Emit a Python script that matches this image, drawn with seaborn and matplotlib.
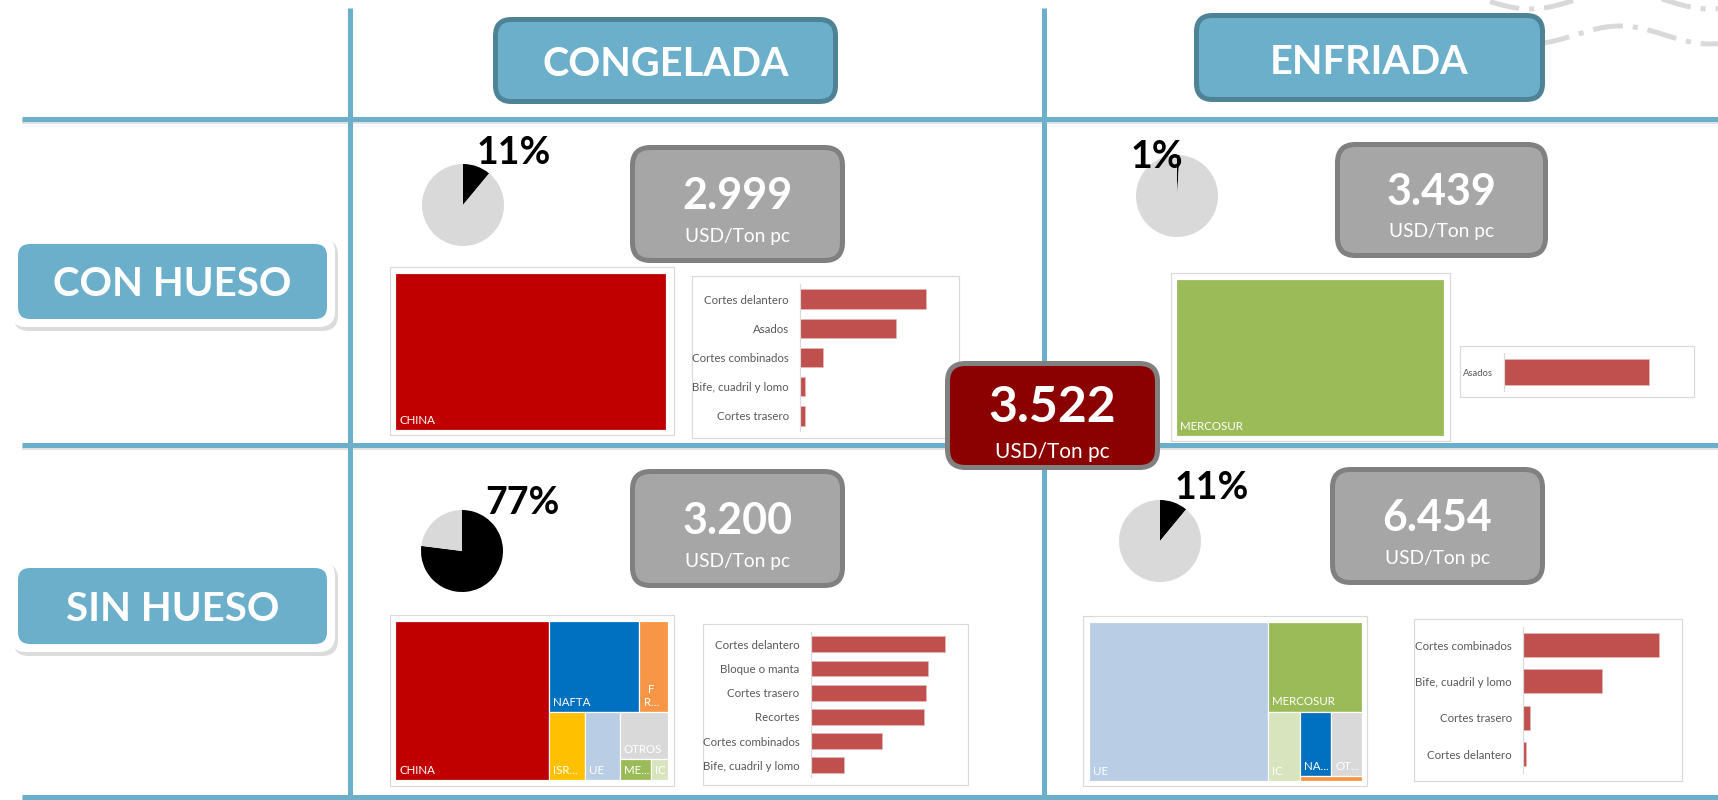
import matplotlib
matplotlib.use('Agg')
import matplotlib.pyplot as plt
from matplotlib.patches import FancyBboxPatch, Rectangle
import numpy as np
import seaborn as sns

sns.set_theme(style='white')
plt.rcParams['font.family'] = ['Lato', 'DejaVu Sans']

# ---- data ----
tipos = ['CONGELADA', 'ENFRIADA']
huesos = ['CON HUESO', 'SIN HUESO']
precio_promedio = '3.522'
unidad = 'USD/Ton pc'

# price per cell (con hueso, sin hueso)
precios_congelada = ['2.999', '3.200']
precios_enfriada = ['3.439', '6.454']
# share (%) of each cell in the total
part_congelada = [11, 77]
part_enfriada = [1, 11]

# destination markets (treemaps)
mercados_cong_con = ['CHINA']
share_cong_con = [100]
mercados_enf_con = ['MERCOSUR']
share_enf_con = [100]
mercados_cong_sin = ['CHINA', 'NAFTA', 'F\nR...', 'ISR...', 'UE', 'OTROS', 'ME...', 'IC']
share_cong_sin = [55.7, 18.7, 5.9, 5.6, 5.3, 5.2, 1.5, 0.8]
mercados_enf_sin = ['UE', 'MERCOSUR', 'IC', 'NA...', 'OT...', '']
share_enf_sin = [64.6, 19.1, 5.0, 4.6, 4.5, 0.7]
colores_cong_sin = ['#C00000', '#0070C0', '#F79646', '#FFC000', '#B9CDE5', '#D9D9D9', '#9BBB59', '#D7E4BD']
colores_enf_sin = ['#B9CDE5', '#9BBB59', '#D7E4BD', '#0070C0', '#D9D9D9', '#F79646']

# cuts (bar charts), relative volume
cortes_cong_con = ['Cortes delantero', 'Asados', 'Cortes combinados', 'Bife, cuadril y lomo', 'Cortes trasero']
vol_cong_con = [126, 95.5, 22.8, 4.8, 4.8]
cortes_enf_con = ['Asados']
vol_enf_con = [144.6]
cortes_cong_sin = ['Cortes delantero', 'Bloque o manta', 'Cortes trasero', 'Recortes', 'Cortes combinados', 'Bife, cuadril y lomo']
vol_cong_sin = [134.4, 117.6, 115.7, 113.3, 71.2, 33.3]
cortes_enf_sin = ['Cortes combinados', 'Bife, cuadril y lomo', 'Cortes trasero', 'Cortes delantero']
vol_enf_sin = [136.4, 78.7, 7.1, 2.7]

# ---- styling ----
W, H = 1718, 800
BLUE = '#6BAFCA'
BLUE_EDGE = '#4E8396'
GRAY_BOX = '#A6A6A6'
GRAY_EDGE = '#808080'
LIGHT = '#D9D9D9'
BAR = '#C0504D'
PX = 0.72  # points per pixel at dpi 100

fig = plt.figure(figsize=(W / 100, H / 100), dpi=100)


def fig_rect(x0, y0, x1, y1):
    return [x0 / W, 1 - y1 / H, (x1 - x0) / W, (y1 - y0) / H]


def full_axes(z):
    ax = fig.add_axes([0, 0, 1, 1], zorder=z)
    ax.set_xlim(0, W)
    ax.set_ylim(H, 0)
    ax.axis('off')
    ax.patch.set_alpha(0)
    return ax


bg = full_axes(0)
fg = full_axes(10)


def rbox(ax, x0, y0, x1, y1, fc, ec='none', lw=0, r=15, alpha=1, z=2):
    i = lw / 2
    ax.add_patch(FancyBboxPatch((x0 + i, y0 + i), x1 - x0 - 2 * i, y1 - y0 - 2 * i,
                                boxstyle=f'round,pad=0,rounding_size={r}',
                                fc=fc, ec=ec, lw=lw * PX, alpha=alpha, zorder=z))


# grid lines
for y in [119, 445, 797]:
    bg.plot([22, W], [y + 3, y + 3], color='#BFBFBF', lw=4 * PX, alpha=0.45, zorder=1, solid_capstyle='butt')
    bg.plot([22, W], [y, y], color=BLUE, lw=5 * PX, zorder=1.2, solid_capstyle='butt')
for x in [350, 1044]:
    bg.plot([x, x], [8, H], color=BLUE, lw=5 * PX, zorder=1.3, solid_capstyle='butt')

# decoration top right
xs = np.linspace(1540, W, 200)
bg.plot(xs, 35 - 9 * np.cos(2 * np.pi * (xs - 1620) / 180), color=LIGHT, lw=5 * PX,
        linestyle=(0, (6, 2, 1, 2)), zorder=1)
xs = np.linspace(1490, W, 200)
bg.plot(xs, -9 * np.cos(2 * np.pi * (xs - 1620) / 180), color=LIGHT, lw=5 * PX,
        linestyle=(0, (6, 2, 1, 2)), zorder=1)

# column headers
for (x0, y0, x1, y1), lab in zip([(493, 17, 838, 104), (1194, 13, 1545, 102)], tipos):
    rbox(bg, x0, y0, x1, y1, BLUE, BLUE_EDGE, 5, r=16)
    bg.text((x0 + x1) / 2, (y0 + y1) / 2 + 1, lab, ha='center', va='center_baseline',
            color='white', fontsize=28.5, fontweight='bold', zorder=3)

# row headers
for (y0, y1), lab in zip([(236, 327), (560, 652)], huesos):
    rbox(bg, 13, y0 + 3, 338, y1 + 4, '#8C8C8C', r=16, alpha=0.3)
    rbox(bg, 10, y0, 335, y1, 'white', r=16)
    rbox(bg, 18, y0 + 8, 327, y1 - 8, BLUE, r=12, z=2.5)
    bg.text(172.5, (y0 + y1) / 2, lab, ha='center', va='center_baseline',
            color='white', fontsize=29, fontweight='bold', zorder=3)


# pies
def draw_pie(cx, cy, share, lx, ly):
    ax = fig.add_axes(fig_rect(cx - 41, cy - 41, cx + 41, cy + 41))
    ax.pie([share, 100 - share], colors=['black', LIGHT], startangle=90, counterclock=False,
           radius=1, wedgeprops=dict(linewidth=0))
    ax.set_xlim(-1, 1)
    ax.set_ylim(-1, 1)
    fg.text(lx, ly, f'{share}%', ha='left', va='baseline', color='black',
            fontsize=27, fontweight='bold', zorder=5)


draw_pie(463, 205, part_congelada[0], 477, 164)
draw_pie(1177, 196, part_enfriada[0], 1131, 168)
draw_pie(462, 551, part_congelada[1], 485, 514)
draw_pie(1160, 541, part_enfriada[1], 1175, 499)


# price boxes
def price_box(x0, y0, x1, y1, valor, fc, big, small, fb, fs):
    rbox(fg, x0, y0, x1, y1, fc, GRAY_EDGE, 5, r=18, z=4)
    cx = (x0 + x1) / 2
    h = y1 - y0
    fg.text(cx, y0 + fb * h, valor, ha='center', va='baseline', color='white',
            fontsize=big, fontweight='bold', zorder=5)
    fg.text(cx, y0 + fs * h, unidad, ha='center', va='baseline', color='white',
            fontsize=small, zorder=5)


price_box(630, 145, 845, 263, precios_congelada[0], GRAY_BOX, 31, 13.8, 0.545, 0.82)
price_box(1335, 142, 1548, 258, precios_enfriada[0], GRAY_BOX, 31, 13.8, 0.545, 0.82)
price_box(630, 469, 845, 588, precios_congelada[1], GRAY_BOX, 31, 13.8, 0.545, 0.82)
price_box(1330, 467, 1545, 585, precios_enfriada[1], GRAY_BOX, 31, 13.8, 0.545, 0.82)
price_box(945, 361, 1160, 470, precio_promedio, '#8B0000', 36, 15, 0.56, 0.89)


# treemaps
def group_sum(g, vals):
    return vals[g] if isinstance(g, int) else sum(group_sum(s, vals) for s in g)


def slice_layout(groups, vals, x, y, w, h, horiz, out):
    tot = sum(group_sum(g, vals) for g in groups)
    pos = x if horiz else y
    for g in groups:
        f = group_sum(g, vals) / tot
        if horiz:
            r = (pos, y, w * f, h)
            pos += w * f
        else:
            r = (x, pos, w, h * f)
            pos += h * f
        if isinstance(g, int):
            out[g] = r
        else:
            slice_layout(g, vals, *r, not horiz, out)
    return out


def draw_treemap(frame, inner, nombres, vals, colores, plan):
    bg.add_patch(Rectangle((frame[0], frame[1]), frame[2] - frame[0], frame[3] - frame[1],
                           fc='white', ec=LIGHT, lw=1.2 * PX, zorder=2))
    ax = fig.add_axes(fig_rect(*inner))
    ax.set_xlim(0, 1)
    ax.set_ylim(1, 0)
    ax.axis('off')
    rects = slice_layout(plan, vals, 0, 0, 1, 1, True, {})
    for i, (x, y, w, h) in rects.items():
        ax.add_patch(Rectangle((x, y), w, h, fc=colores[i], ec='white', lw=1.2 * PX))
        if nombres[i]:
            ax.annotate(nombres[i], (x, y + h), xytext=(3, 3), textcoords='offset points',
                        ha='left', va='bottom', color='white', fontsize=8.3, multialignment='center')


draw_treemap((390, 267, 674, 435), (395, 273, 666, 430), mercados_cong_con, share_cong_con,
             ['#C00000'], [0])
draw_treemap((1171, 273, 1450, 441), (1176, 279, 1444, 436), mercados_enf_con, share_enf_con,
             ['#9BBB59'], [0])
draw_treemap((390, 615, 674, 786), (395, 621, 668, 780), mercados_cong_sin, share_cong_sin,
             colores_cong_sin, [0, [[1, 2], [3, 4, [5, [6, 7]]]]])
draw_treemap((1083, 616, 1367, 786), (1089, 622, 1362, 781), mercados_enf_sin, share_enf_sin,
             colores_enf_sin, [0, [1, [2, [[3, 4], 5]]]])


# bar charts
def draw_bars(frame, area, cortes, vols, fs):
    bg.add_patch(Rectangle((frame[0], frame[1]), frame[2] - frame[0], frame[3] - frame[1],
                           fc='white', ec=LIGHT, lw=1.2 * PX, zorder=2))
    ax = fig.add_axes(fig_rect(*area))
    sns.barplot(x=vols, y=cortes, orient='h', color=BAR, saturation=1, width=0.66,
                edgecolor='#E6B9B8', linewidth=0.5, ax=ax)
    ax.set_xlim(0, area[2] - area[0])
    ax.set_xlabel('')
    ax.set_ylabel('')
    ax.set_xticks([])
    ax.tick_params(axis='y', length=0, pad=8, labelsize=fs, labelcolor='#595959')
    for s in ['top', 'right', 'bottom']:
        ax.spines[s].set_visible(False)
    ax.spines['left'].set_color(LIGHT)
    ax.spines['left'].set_linewidth(1.2 * PX)
    ax.patch.set_alpha(0)


draw_bars((692, 276, 959, 438), (800, 284.4, 950, 430.6), cortes_cong_con, vol_cong_con, 8.3)
draw_bars((1460, 346, 1694, 397), (1504, 353, 1684, 391), cortes_enf_con, vol_enf_con, 6.8)
draw_bars((703, 624, 968, 785), (810.5, 632.2, 958, 777.4), cortes_cong_sin, vol_cong_sin, 8.3)
draw_bars((1414, 619, 1682, 781), (1523, 626.8, 1672, 772.5), cortes_enf_sin, vol_enf_sin, 8.3)

fig.savefig('out.png', dpi=100)
